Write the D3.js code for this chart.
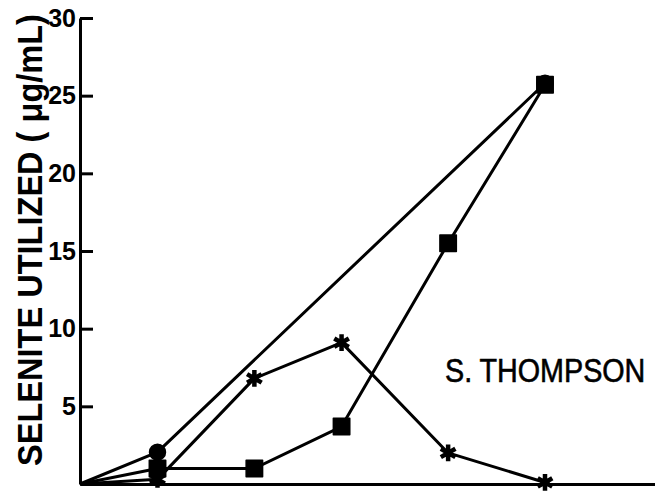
<!DOCTYPE html>
<html>
<head>
<meta charset="utf-8">
<script src="https://cdn.jsdelivr.net/npm/d3@7"></script>
<style>
  html, body { margin: 0; padding: 0; background: #fff; }
  svg { display: block; }
</style>
</head>
<body>
<svg id="chart" width="655" height="493"></svg>
<script>
// ---- data (x in arbitrary time units, no x labels in original) ----
const circleX = [0, 8, 48];
const circleY = [0, 2.05, 25.8];
const squareX = [0, 8, 18, 27, 38, 48];
const squareY = [0, 1.0, 1.0, 3.7, 15.5, 25.7];
const starX = [0, 8, 18, 27, 38, 48];
const starY = [0, 0.3, 6.8, 9.1, 2.0, 0.1];
const yTicks = [5, 10, 15, 20, 25, 30];
const yLabel = "SELENITE UTILIZED ( \u03BCg/mL)";
const annotation = "S. THOMPSON";

const svg = d3.select("#chart");
svg.append("rect").attr("width", 655).attr("height", 493).attr("fill", "#fff");

const x = d3.scaleLinear().domain([0, 48]).range([80, 545]);
const y = d3.scaleLinear().domain([0, 30]).range([484, 18]);

const font = "'Liberation Sans', Arial, sans-serif";

// x axis (no ticks), extends to the right edge
const xAxisScale = x.copy().domain([0, x.invert(655)]).range([80, 655]);
svg.append("g")
  .attr("transform", `translate(0,${y(0)})`)
  .call(d3.axisBottom(xAxisScale).tickValues([]).tickSizeOuter(0))
  .call(g => g.select(".domain").attr("stroke", "#000").attr("stroke-width", 3));

// y axis with ticks pointing inward
svg.append("g")
  .attr("transform", `translate(${x(0)},0)`)
  .call(d3.axisLeft(y).tickValues(yTicks).tickSizeInner(-13).tickSizeOuter(0).tickPadding(4))
  .call(g => {
    g.select(".domain").attr("stroke", "#000").attr("stroke-width", 3);
    g.selectAll(".tick line").attr("stroke", "#000").attr("stroke-width", 3);
    g.selectAll(".tick text")
      .attr("fill", "#000")
      .attr("font-family", font)
      .attr("font-weight", "bold")
      .attr("font-size", 25);
  });

const line = d3.line().x(d => x(d[0])).y(d => y(d[1]));
const zip = (a, b) => a.map((v, i) => [v, b[i]]);

const series = [
  { pts: zip(circleX, circleY), sym: d3.symbolCircle, size: 200, fill: true },
  { pts: zip(squareX, squareY), sym: d3.symbolSquare, size: 270, fill: true },
  { pts: zip(starX, starY), sym: d3.symbolAsterisk, size: 200, fill: false }
];

series.forEach(s => {
  svg.append("path")
    .attr("d", line(s.pts))
    .attr("fill", "none")
    .attr("stroke", "#000")
    .attr("stroke-width", 3)
    .attr("stroke-linejoin", "round");
});

series.forEach(s => {
  svg.append("g").selectAll("path")
    .data(s.pts.slice(1))
    .join("path")
    .attr("transform", d => `translate(${x(d[0])},${y(d[1])})`)
    .attr("d", d3.symbol().type(s.sym).size(s.size))
    .attr("fill", s.fill ? "#000" : "none")
    .attr("stroke", "#000")
    .attr("stroke-width", s.fill ? 1.5 : 4.5)
    .attr("stroke-linejoin", "round");
});

// y axis title (condensed by horizontal scaling along the text)
svg.append("text")
  .attr("transform", "translate(42,240) rotate(-90) scale(0.93,1)")
  .attr("text-anchor", "middle")
  .attr("font-family", font)
  .attr("font-weight", "bold")
  .attr("font-size", 35)
  .attr("fill", "#000")
  .text(yLabel);

// annotation
svg.append("text")
  .attr("transform", "translate(445,382) scale(0.87,1)")
  .attr("font-family", font)
  .attr("font-size", 33)
  .attr("fill", "#000")
  .attr("stroke", "#000")
  .attr("stroke-width", 0.6)
  .text(annotation);
</script>
</body>
</html>
